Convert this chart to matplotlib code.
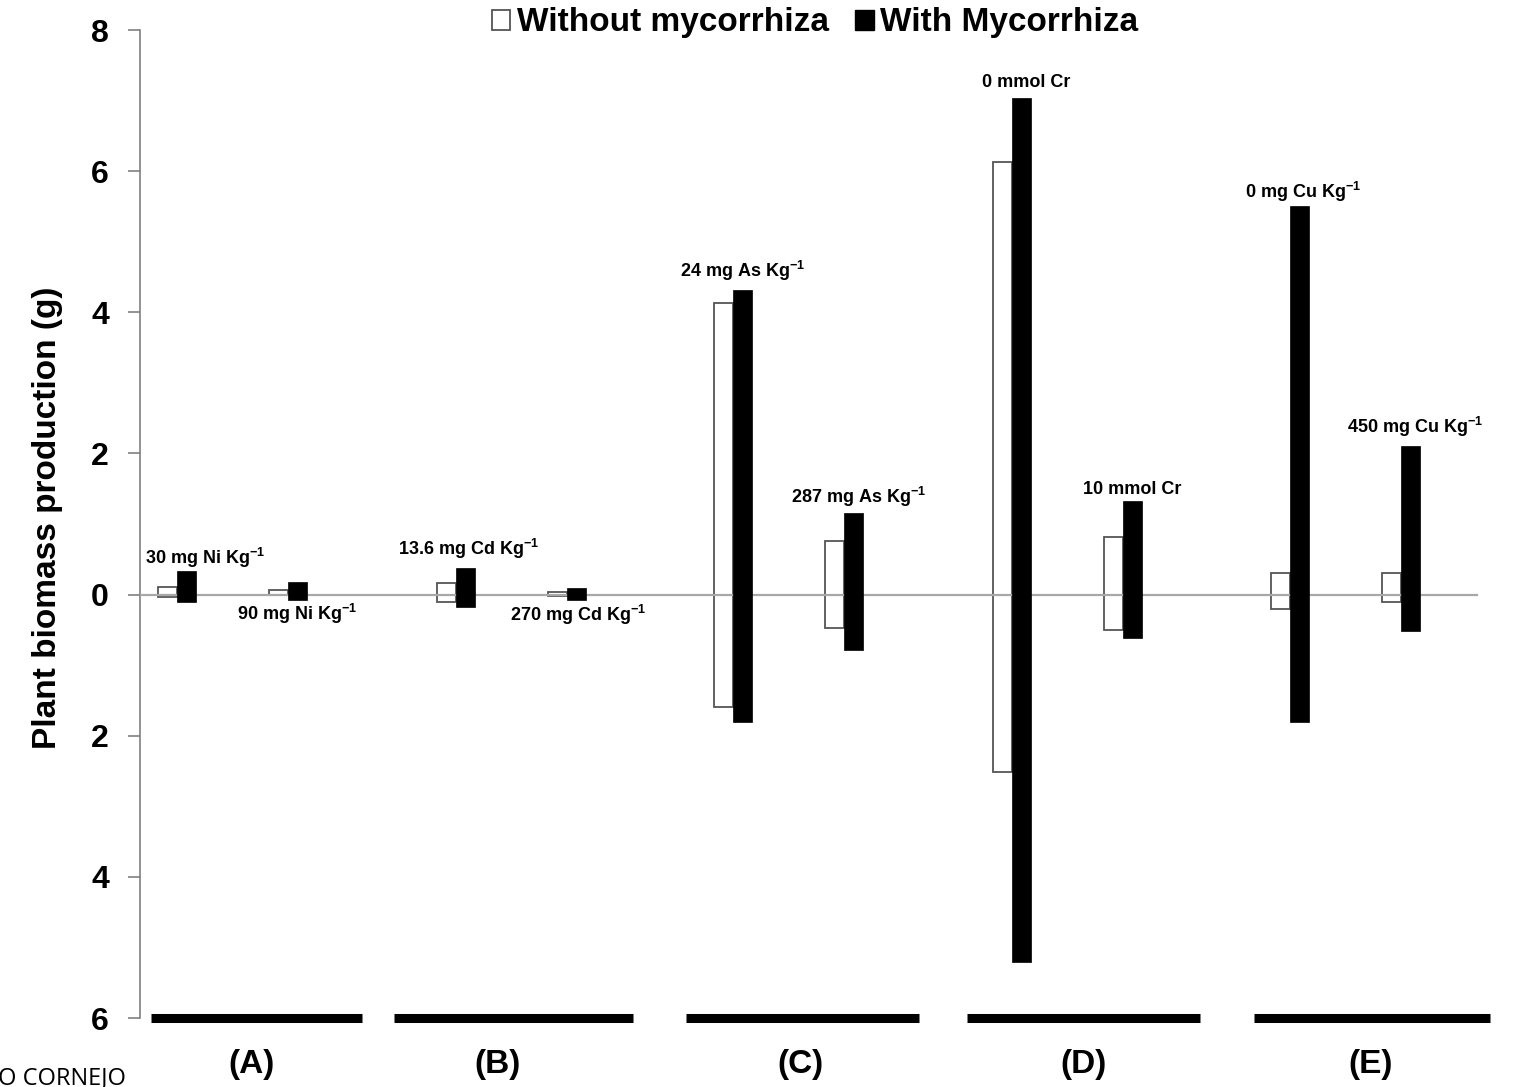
import matplotlib
matplotlib.use("Agg")
import matplotlib.pyplot as plt
from matplotlib.patches import Patch

plt.rcParams['font.family'] = ['Liberation Sans', 'DejaVu Sans']
plt.rcParams['font.weight'] = 'bold'
plt.rcParams['mathtext.fontset'] = 'custom'
plt.rcParams['mathtext.rm'] = 'Liberation Sans:bold'
plt.rcParams['mathtext.it'] = 'Liberation Sans:bold'
plt.rcParams['mathtext.bf'] = 'Liberation Sans:bold'
plt.rcParams['mathtext.default'] = 'rm'

# ---------------- data ----------------
treatments = ['30 mg Ni', '90 mg Ni', '13.6 mg Cd', '270 mg Cd', '24 mg As',
              '287 mg As', '0 mmol Cr', '10 mmol Cr', '0 mg Cu', '450 mg Cu']
without_top = [0.11, 0.07, 0.17, 0.04, 4.13, 0.76, 6.13, 0.81, 0.31, 0.31]
without_bottom = [-0.03, -0.01, -0.11, -0.02, -1.60, -0.47, -2.51, -0.50, -0.21, -0.10]
with_top = [0.33, 0.18, 0.38, 0.10, 4.31, 1.16, 7.03, 1.32, 5.51, 2.11]
with_bottom = [-0.11, -0.08, -0.17, -0.08, -1.81, -0.78, -5.21, -0.61, -1.81, -0.51]
labels = [r'30 mg Ni Kg$^{-1}$', r'90 mg Ni Kg$^{-1}$', r'13.6 mg Cd Kg$^{-1}$',
          r'270 mg Cd Kg$^{-1}$', r'24 mg As Kg$^{-1}$', r'287 mg As Kg$^{-1}$',
          '0 mmol Cr', '10 mmol Cr', r'0 mg Cu Kg$^{-1}$', r'450 mg Cu Kg$^{-1}$']
groups = ['(A)', '(B)', '(C)', '(D)', '(E)']
ytick_values = [-6, -4, -2, 0, 2, 4, 6, 8]
ytick_labels = [str(abs(v)) for v in ytick_values]

# ---------------- layout ----------------
pair_pos = [177, 288, 456, 567, 733, 844, 1012, 1123, 1290, 1401]
bar_w = 19
label_above = [True, False, True, False, True, True, True, True, True, True]
label_dx = [19, 0, 3, 2, 0, 5, 5, 0, 4, 5]
label_dy = [7, 20, 13, 21, 13, 10, 11, 7, 8, 13]
group_start = [151, 394, 686, 967, 1254]
group_end = [362, 633, 919, 1200, 1490]
group_label_x = [251, 498, 800, 1084, 1371]

W, H = 1516, 1087
fig = plt.figure(figsize=(W / 100, H / 100), dpi=100)
ax = fig.add_axes([140 / W, 1 - 1018 / H, (W - 140) / W, (1018 - 30) / H])
ax.set_xlim(140, W)
ax.set_ylim(-6, 8)

wx = [p - bar_w / 2 for p in pair_pos]
bx = [p + bar_w / 2 for p in pair_pos]
ax.bar(wx, [t - b for t, b in zip(without_top, without_bottom)], width=bar_w,
       bottom=without_bottom, facecolor='white', edgecolor='#555555', linewidth=1.3, zorder=2)
ax.plot([140, 1477], [0, 0], color='#a8a8a8', lw=1.6, zorder=3)
ax.bar(bx, [t - b for t, b in zip(with_top, with_bottom)], width=bar_w,
       bottom=with_bottom, facecolor='black', edgecolor='black', linewidth=0.5, zorder=4)

for i, lab in enumerate(labels):
    yref = with_top[i] if label_above[i] else with_bottom[i]
    dy = label_dy[i] if label_above[i] else -label_dy[i]
    ax.annotate(lab, xy=(bx[i], yref), xytext=(label_dx[i], dy),
                textcoords='offset pixels', ha='center', va='baseline',
                fontsize=13, fontweight='bold')

for s, e, gx, g in zip(group_start, group_end, group_label_x, groups):
    ax.plot([s, e], [-6, -6], color='black', lw=6.5, solid_capstyle='butt',
            clip_on=False, zorder=5)
    ax.annotate(g, xy=(gx, -6), xytext=(0, -46), textcoords='offset pixels',
                ha='center', va='center', fontsize=24, fontweight='bold',
                annotation_clip=False)

for sp in ['top', 'right', 'bottom']:
    ax.spines[sp].set_visible(False)
ax.spines['left'].set_color('#808080')
ax.spines['left'].set_linewidth(1.2)
ax.set_xticks([])
ax.set_yticks(ytick_values)
ax.set_yticklabels(ytick_labels, fontsize=23, fontweight='bold')
ax.tick_params(axis='y', direction='out', length=8.5, width=1.2, color='#808080', pad=14)

fig.text(48 / W, 1 - 518 / H, 'Plant biomass production (g)', rotation=90,
         ha='center', va='center', fontsize=24, fontweight='bold')

handles = [Patch(facecolor='white', edgecolor='#555555', linewidth=1.3),
           Patch(facecolor='black', edgecolor='black')]
fig.legend(handles, ['Without mycorrhiza', 'With Mycorrhiza'], loc='center',
           bbox_to_anchor=(815 / W, 1 - 23 / H), ncol=2, frameon=False,
           prop={'size': 24, 'weight': 'bold'}, handlelength=0.55, handleheight=0.55,
           handletextpad=0.2, columnspacing=0.8)

fig.text(-2 / W, 1 - 1066 / H, 'O CORNEJO', ha='left', va='top', fontsize=17,
         fontweight='normal', family=['Open Sans', 'DejaVu Sans'])

fig.savefig('out.png', dpi=100)
